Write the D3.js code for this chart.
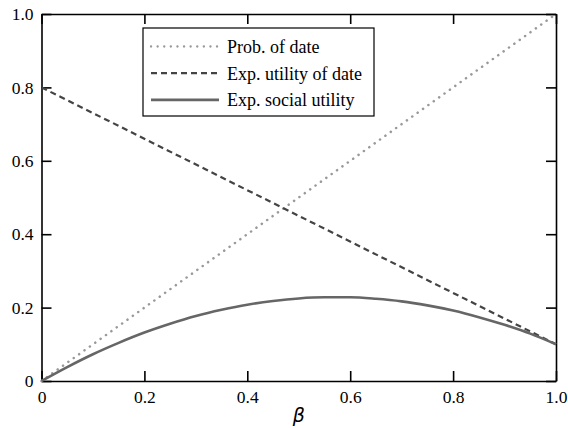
<!DOCTYPE html>
<html>
<head>
<meta charset="utf-8">
<script src="https://cdn.jsdelivr.net/npm/d3@7"></script>
</head>
<body style="margin:0">
<script>
let svgWidth = 568;
let svgHeight = 428;

let margin = { top: 14, right: 12, bottom: 47, left: 41.5 };
let width = svgWidth - margin.left - margin.right;
let height = svgHeight - margin.top - margin.bottom;

// data
let beta = [0, 0.05, 0.1, 0.15, 0.2, 0.25, 0.3, 0.35, 0.4, 0.45, 0.5,
            0.55, 0.6, 0.65, 0.7, 0.75, 0.8, 0.85, 0.9, 0.95, 1.0];
let socialUtility = [0, 0.038, 0.073, 0.104, 0.132, 0.156, 0.177, 0.194, 0.208, 0.218, 0.225,
                     0.228, 0.228, 0.224, 0.217, 0.206, 0.192, 0.174, 0.153, 0.129, 0.10];
let probBeta = [0, 1];
let probDate = [0, 1];
let utilBeta = [0, 0.5, 1];
let utilDate = [0.8, 0.45, 0.1];
let ticks = [0, 0.2, 0.4, 0.6, 0.8, 1.0];
let legendLabels = ["Prob. of date", "Exp. utility of date", "Exp. social utility"];

let svg = d3.select("body")
    .append("svg")
    .attr("width", svgWidth)
    .attr("height", svgHeight)
    .attr("font-family", "Liberation Serif");

let chartGroup = svg.append("g")
    .attr("transform", `translate(${margin.left}, ${margin.top})`);

let x = d3.scaleLinear().domain([0, 1]).range([0, width]);
let y = d3.scaleLinear().domain([0, 1]).range([height, 0]);

let fmt = d => d === 0 ? "0" : d3.format(".1f")(d);

// axes, ticks pointing inward on all four sides
let axes = [
    chartGroup.append("g")
        .attr("transform", `translate(0, ${height})`)
        .call(d3.axisBottom(x).tickValues(ticks).tickFormat(fmt).tickSizeInner(-10).tickSizeOuter(0).tickPadding(10)),
    chartGroup.append("g")
        .call(d3.axisTop(x).tickValues(ticks).tickFormat("").tickSizeInner(-10).tickSizeOuter(0)),
    chartGroup.append("g")
        .call(d3.axisLeft(y).tickValues(ticks).tickFormat(fmt).tickSizeInner(-10).tickSizeOuter(0).tickPadding(8)),
    chartGroup.append("g")
        .attr("transform", `translate(${width}, 0)`)
        .call(d3.axisRight(y).tickValues(ticks).tickFormat("").tickSizeInner(-10).tickSizeOuter(0))
];
axes.forEach(a => a.attr("font-family", "Liberation Serif").attr("font-size", 17.5));

chartGroup.selectAll(".tick text")
    .attr("fill", "#000");

chartGroup.selectAll(".domain, .tick line")
    .attr("stroke", "#000")
    .attr("stroke-width", 1.6);

// series
let line = d3.line().curve(d3.curveMonotoneX);

chartGroup.append("path")
    .attr("d", line(probBeta.map((b, i) => [x(b), y(probDate[i])])))
    .attr("fill", "none")
    .attr("stroke", "#999")
    .attr("stroke-width", 2.5)
    .attr("stroke-linecap", "round")
    .attr("stroke-dasharray", "0.1,6.5");

chartGroup.append("path")
    .attr("d", line(utilBeta.map((b, i) => [x(b), y(utilDate[i])])))
    .attr("fill", "none")
    .attr("stroke", "#444")
    .attr("stroke-width", 2.2)
    .attr("stroke-dasharray", "6,4");

chartGroup.append("path")
    .attr("d", line(beta.map((b, i) => [x(b), y(socialUtility[i])])))
    .attr("fill", "none")
    .attr("stroke", "#666")
    .attr("stroke-width", 2.6);

// legend
let legend = svg.append("g").attr("transform", "translate(143, 28)");
legend.append("rect")
    .attr("width", 231)
    .attr("height", 88)
    .attr("fill", "#fff")
    .attr("stroke", "#000")
    .attr("stroke-width", 1.2);

let styles = [
    { stroke: "#999", dash: "0.1,6.5", w: 2.3, cap: "round" },
    { stroke: "#444", dash: "6,4", w: 2.2, cap: "butt" },
    { stroke: "#666", dash: null, w: 2.6, cap: "butt" }
];

legendLabels.forEach((lab, i) => {
    let yy = 18.5 + i * 26.7;
    legend.append("line")
        .attr("x1", 8).attr("x2", 76)
        .attr("y1", yy).attr("y2", yy)
        .attr("stroke", styles[i].stroke)
        .attr("stroke-width", styles[i].w)
        .attr("stroke-linecap", styles[i].cap)
        .attr("stroke-dasharray", styles[i].dash);
    legend.append("text")
        .attr("x", 84)
        .attr("y", yy + 6.5)
        .attr("font-family", "Liberation Serif")
        .attr("font-size", 18)
        .text(lab);
});

// x axis title
svg.append("text")
    .attr("x", margin.left + width / 2)
    .attr("y", 422)
    .attr("text-anchor", "middle")
    .attr("font-family", "DejaVu Sans")
    .attr("font-style", "italic")
    .attr("font-size", 19)
    .text("β");
</script>
</body>
</html>
